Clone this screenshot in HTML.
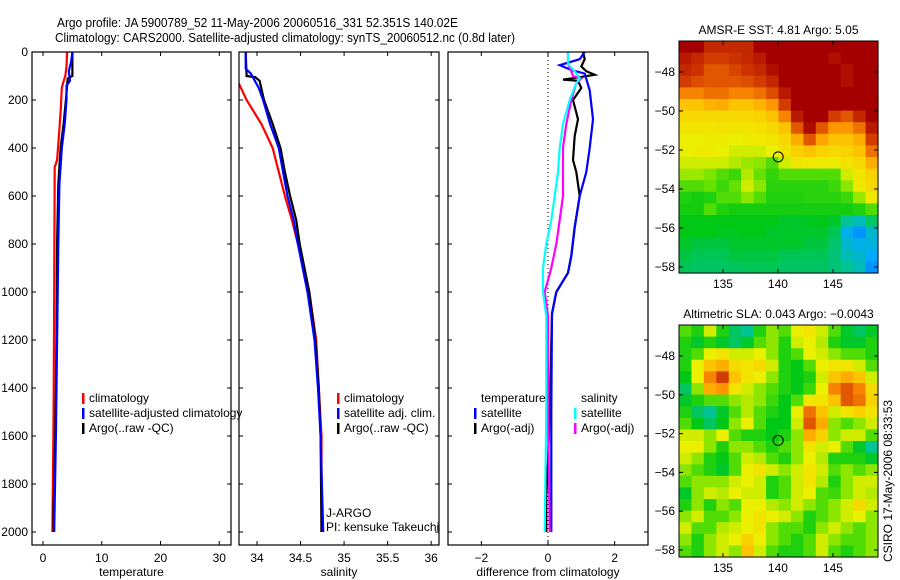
<!DOCTYPE html>
<html><head><meta charset="utf-8"><style>
body{margin:0;background:#fff}
svg{display:block;font-family:"Liberation Sans",sans-serif}
</style></head><body>
<svg id="fig" width="900" height="580" viewBox="0 0 900 580" xmlns="http://www.w3.org/2000/svg">
<rect width="900" height="580" fill="#fff"/>
<text x="57" y="27" font-size="13" textLength="401" lengthAdjust="spacingAndGlyphs">Argo profile: JA 5900789_52 11-May-2006 20060516_331 52.351S 140.02E</text>
<text x="55" y="42" font-size="13" textLength="460" lengthAdjust="spacingAndGlyphs">Climatology: CARS2000. Satellite-adjusted climatology: synTS_20060512.nc (0.8d later)</text>
<g id="layer"></g>
<text x="0" y="0" font-size="12" transform="translate(892,562) rotate(-90)">CSIRO 17-May-2006 08:33:53</text>
</svg>
<script>
// ---------- DATA ----------
const depthTicks=[0,200,400,600,800,1000,1200,1400,1600,1800,2000];
const tempTicks=[0,10,20,30];
const salTicks=[34,34.5,35,35.5,36];
const diffTicks=[-2,0,2];
const tClimD=[0,60,100,130,150,250,350,450,480,1000,1500,2000];
const tClimV=[4.1,4.0,3.8,3.4,3.2,3.0,2.7,2.4,2.0,1.9,1.8,1.6];
const tSatD=[0,40,80,120,140,200,300,400,550,800,1200,1600,2000];
const tSatV=[5.0,4.8,4.4,4.6,4.0,4.0,3.7,3.2,2.8,2.6,2.4,2.2,1.9];
const tArgoD=[0,100,110,200,300,400,550,800,1200,1600,1900,2000];
const tArgoV=[5.0,5.0,4.2,3.9,3.5,3.0,2.6,2.4,2.3,2.1,1.8,1.8];
const sClimD=[130,200,300,400,500,600,700,800,1000,1200,1400,1600,2000];
const sClimV=[33.79,33.88,34.05,34.18,34.25,34.32,34.4,34.47,34.6,34.68,34.71,34.74,34.74];
const sSatD=[0,70,90,150,200,300,400,500,600,700,800,1000,1200,1400,1600,2000];
const sSatV=[33.87,33.87,33.93,34.02,34.07,34.15,34.25,34.3,34.35,34.42,34.47,34.58,34.66,34.7,34.73,34.76];
const sArgoD=[0,100,105,120,200,300,400,500,600,700,800,1000,1200,1400,1600,2000];
const sArgoV=[33.87,33.88,33.98,34.03,34.08,34.18,34.27,34.32,34.38,34.45,34.49,34.6,34.67,34.71,34.73,34.74];
const dTSatD=[0,30,55,75,90,160,280,400,500,600,730,850,920,1000,1090,1500,2000];
const dTSatV=[1.1,0.95,0.35,0.7,1.1,1.25,1.35,1.25,1.15,0.95,0.8,0.7,0.6,0.25,0.12,0.1,0.1];
const dTArgoD=[0,30,60,80,95,110,115,120,150,200,280,350,450,500,600,730,850,920,1000,1090,1500,1700,1850,2000];
const dTArgoV=[1.05,1.1,1.0,1.15,1.4,0.7,0.45,0.9,1.0,0.75,0.9,0.8,0.75,0.85,0.95,0.8,0.7,0.6,0.25,0.12,0.05,0.0,-0.05,-0.05];
const dSSatD=[0,50,80,110,130,200,300,400,500,600,700,800,900,1000,1100,1500,2000];
const dSSatV=[0.6,0.6,0.8,0.95,0.85,0.65,0.45,0.35,0.3,0.2,0.1,-0.05,-0.15,-0.15,-0.05,-0.05,-0.1];
const dSArgoD=[0,50,80,100,110,130,200,300,400,500,600,700,800,900,1000,1100,1500,2000];
const dSArgoV=[0.6,0.6,0.7,0.75,1.0,0.85,0.7,0.55,0.45,0.45,0.45,0.35,0.25,0.1,-0.1,0.0,0.0,0.05];
const lonTicks=[135,140,145];
const latTicks=[-48,-50,-52,-54,-56,-58];
const floatLon=140.02, floatLat=-52.351;
const sstGrid=[
[1,1,.92,.92,.92,.92,1,1,1,1,1,1,1,1,1,1],
[.95,.92,.88,.88,.9,.92,.95,1,1,1,1,1,.97,1,1,1],
[.92,.9,.85,.85,.87,.9,.92,.97,1,1,1,1,1,.97,1,1],
[.88,.86,.85,.85,.85,.86,.88,.92,1,1,1,1,1,.97,1,1],
[.8,.8,.82,.82,.8,.8,.82,.86,.95,1,1,1,1,1,1,1],
[.72,.72,.74,.75,.72,.72,.74,.78,.88,1,1,1,1,1,1,1],
[.68,.68,.68,.68,.68,.68,.7,.72,.8,.95,1,1,.88,.85,.92,1],
[.65,.65,.65,.66,.65,.65,.66,.68,.72,.85,.98,.85,.78,.78,.82,.95],
[.62,.62,.63,.63,.62,.63,.64,.65,.68,.75,.85,.76,.72,.72,.75,.88],
[.62,.63,.63,.62,.6,.6,.6,.62,.66,.7,.72,.7,.68,.7,.72,.82],
[.6,.6,.6,.6,.58,.56,.55,.5,.6,.65,.64,.63,.63,.66,.68,.75],
[.56,.56,.54,.5,.48,.58,.52,.47,.5,.5,.5,.5,.5,.6,.65,.7],
[.5,.5,.52,.48,.52,.6,.55,.46,.46,.46,.46,.46,.48,.55,.64,.68],
[.45,.44,.45,.5,.5,.55,.5,.45,.45,.45,.46,.46,.46,.48,.56,.64],
[.44,.44,.5,.45,.44,.44,.44,.44,.44,.44,.44,.44,.44,.44,.45,.5],
[.42,.42,.42,.42,.42,.42,.42,.42,.4,.4,.41,.42,.4,.3,.25,.35],
[.42,.42,.42,.41,.41,.42,.42,.4,.4,.4,.4,.4,.36,.18,.12,.22],
[.4,.38,.38,.38,.4,.4,.4,.4,.4,.4,.38,.38,.34,.22,.18,.2],
[.38,.36,.36,.36,.38,.38,.38,.38,.36,.36,.36,.36,.33,.26,.22,.15],
[.36,.35,.35,.35,.35,.36,.36,.36,.35,.35,.35,.35,.33,.3,.25,.12]];
const slaGrid=[
[.5,.45,.6,.45,.35,.3,.45,.55,.5,.62,.65,.6,.5,.4,.35,.4],
[.45,.4,.45,.4,.35,.4,.5,.55,.45,.6,.62,.58,.45,.4,.4,.45],
[.45,.5,.62,.65,.6,.6,.62,.55,.45,.5,.62,.6,.55,.5,.5,.45],
[.45,.62,.72,.75,.68,.65,.68,.6,.45,.42,.5,.62,.65,.65,.6,.5],
[.42,.62,.8,.88,.72,.65,.62,.55,.45,.42,.45,.6,.72,.75,.72,.6],
[.35,.55,.75,.78,.65,.6,.55,.5,.45,.42,.48,.62,.8,.85,.8,.68],
[.4,.45,.5,.5,.55,.58,.55,.48,.42,.5,.65,.65,.72,.85,.82,.7],
[.45,.35,.3,.4,.5,.58,.5,.45,.42,.62,.82,.72,.6,.65,.7,.65],
[.5,.42,.35,.42,.55,.62,.5,.42,.42,.6,.85,.75,.55,.5,.55,.6],
[.6,.6,.55,.62,.5,.45,.45,.42,.45,.55,.75,.7,.55,.6,.6,.5],
[.62,.62,.55,.45,.55,.55,.5,.45,.5,.55,.65,.6,.62,.5,.4,.3],
[.6,.55,.45,.42,.5,.6,.58,.5,.45,.55,.62,.58,.45,.45,.45,.4],
[.55,.5,.45,.4,.5,.62,.65,.6,.55,.6,.65,.6,.5,.55,.5,.55],
[.5,.55,.55,.55,.6,.62,.6,.45,.5,.6,.65,.58,.45,.55,.6,.6],
[.4,.55,.6,.58,.62,.6,.6,.45,.5,.6,.62,.5,.48,.55,.6,.58],
[.45,.55,.45,.55,.5,.62,.62,.58,.55,.6,.55,.5,.55,.6,.68,.6],
[.55,.6,.5,.5,.55,.62,.65,.62,.6,.55,.45,.5,.55,.6,.62,.55],
[.6,.5,.5,.58,.6,.62,.65,.55,.5,.5,.45,.55,.6,.55,.5,.55],
[.55,.45,.55,.6,.62,.7,.62,.55,.5,.45,.5,.6,.55,.5,.5,.55],
[.5,.45,.55,.6,.55,.72,.6,.5,.45,.45,.5,.6,.5,.45,.5,.55]];

// ---------- DRAW ----------
const NS="http://www.w3.org/2000/svg";
const L=document.getElementById('layer');
function mk(tag,attrs,parent){const e=document.createElementNS(NS,tag);for(const k in attrs)e.setAttribute(k,attrs[k]);(parent||L).appendChild(e);return e;}
function txt(s,x,y,anchor,size,parent){const t=mk('text',{x:x,y:y,'text-anchor':anchor||'start','font-size':size||12},parent);t.textContent=s;return t;}

const pTop=52,pBot=545;
const yD=d=>pTop+d*0.24;
const panels=[
 {x0:32,x1:231,v0:-1.87,v1:32.0,ticks:tempTicks,label:'temperature',name:'temperature-panel'},
 {x0:239,x1:439,v0:33.793,v1:36.09,ticks:salTicks,label:'salinity',name:'salinity-panel'},
 {x0:448,x1:648,v0:-3.0,v1:3.0,ticks:diffTicks,label:'difference from climatology',name:'difference-panel'}];
panels.forEach(p=>{p.sx=v=>p.x0+(v-p.v0)/(p.v1-p.v0)*(p.x1-p.x0);});

panels.forEach((p,i)=>{
 const g=mk('g',{});
 
 
 const cp=mk('clipPath',{id:'cp'+i},g);mk('rect',{x:p.x0,y:pTop,width:p.x1-p.x0,height:pBot-pTop},cp);
 p.g=g;
});
function axes(p,i){
 const g=p.g;
 mk('rect',{x:p.x0,y:pTop,width:p.x1-p.x0,height:pBot-pTop,fill:'none',stroke:'#000','stroke-width':1.2},g);
 depthTicks.forEach(d=>{const y=yD(d);
  mk('line',{x1:p.x0,x2:p.x0+4,y1:y,y2:y,stroke:'#000'},g);
  mk('line',{x1:p.x1-4,x2:p.x1,y1:y,y2:y,stroke:'#000'},g);
  if(i===0){const t=txt(String(d),28,y+4,'end',12,g);}
 });
 p.ticks.forEach(v=>{const x=p.sx(v);
  mk('line',{x1:x,x2:x,y1:pBot,y2:pBot-4,stroke:'#000'},g);
  mk('line',{x1:x,x2:x,y1:pTop,y2:pTop+4,stroke:'#000'},g);
  const t=txt(String(v).replace('-','\u2212'),x,562,'middle',12,g);
  
  
 });
 const xl=txt(p.label,(p.x0+p.x1)/2,576,'middle',12,g);
 
 
}
function line(p,i,D,V,color,name){
 const pts=D.map((d,k)=>p.sx(V[k]).toFixed(1)+','+yD(d).toFixed(1)).join(' ');
 const e=mk('polyline',{points:pts,fill:'none',stroke:color,'stroke-width':2.2,'clip-path':'url(#cp'+i+')'},p.g);
 
 
}
const P0=panels[0],P1=panels[1],P2=panels[2];
line(P0,0,tClimD,tClimV,'#f00','temp-climatology-line');
line(P0,0,tArgoD,tArgoV,'#000','temp-argo-line');
line(P0,0,tSatD,tSatV,'#00f','temp-satellite-line');
line(P1,1,sClimD,sClimV,'#f00','sal-climatology-line');
line(P1,1,sArgoD,sArgoV,'#000','sal-argo-line');
line(P1,1,sSatD,sSatV,'#00f','sal-satellite-line');
mk('line',{x1:P2.sx(0),x2:P2.sx(0),y1:pTop,y2:pBot,stroke:'#000','stroke-dasharray':'1,3'},P2.g);
line(P2,2,dTArgoD,dTArgoV,'#000','diff-temp-argo-line');
line(P2,2,dTSatD,dTSatV,'#00f','diff-temp-satellite-line');
line(P2,2,dSArgoD,dSArgoV,'#f0f','diff-sal-argo-line');
line(P2,2,dSSatD,dSSatV,'#0ff','diff-sal-satellite-line');
panels.forEach(axes);

function legend(g,x,y,items){
 items.forEach((it,k)=>{const yy=y+k*15;
  if(it[1]){mk('rect',{x:x,y:yy-9,width:2.5,height:11,fill:it[1]},g);}
  const t=txt(it[0],x+7,yy,'start',12,g);
  
  
 });
}
legend(P0.g,82,402,[['climatology','#f00'],['satellite-adjusted climatology','#00f'],['Argo(..raw -QC)','#000']]);
legend(P1.g,337,402,[['climatology','#f00'],['satellite adj. clim.','#00f'],['Argo(..raw -QC)','#000']]);
legend(P2.g,474,402,[['temperature',null],['satellite','#00f'],['Argo(-adj)','#000']]);
legend(P2.g,574,402,[['salinity',null],['satellite','#0ff'],['Argo(-adj)','#f0f']]);
const pi1=txt('J-ARGO',326,517,'start',12,P1.g);
const pi2=txt('PI: kensuke Takeuchi',326,531,'start',12,P1.g);

// ---------- MAPS ----------
const stops=[[0,[0,60,255]],[0.15,[0,170,255]],[0.3,[0,195,150]],[0.42,[0,200,20]],[0.52,[100,225,0]],[0.62,[235,240,0]],[0.7,[250,210,0]],[0.78,[255,150,0]],[0.88,[210,60,0]],[1,[165,0,0]]];
function cmap(v){for(let k=1;k<stops.length;k++){if(v<=stops[k][0]){const a=stops[k-1],b=stops[k],t=(v-a[0])/(b[0]-a[0]);
 return 'rgb('+a[1].map((c,j)=>Math.round(c+(b[1][j]-c)*t)).join(',')+')';}}return 'rgb(165,0,0)';}
function drawMap(cfg){
 const g=mk('g',{});
 
 
 const lon0=131.0,lon1=149.1;
 const sx=l=>cfg.x0+(l-lon0)/(lon1-lon0)*(cfg.x1-cfg.x0);
 const sy=la=>cfg.yRef+(-48-la)*cfg.ppd;
 const lat0=-48+(cfg.yRef-cfg.y0)/cfg.ppd, lat1=-48-(cfg.y1-cfg.yRef)/cfg.ppd;
 const G=cfg.grid,nr=G.length,nc=G[0].length;
 const dLon=(lon1-lon0)/nc,dLat=(lat0-lat1)/nr;
 G.forEach((row,r)=>row.forEach((v,c)=>{
  const x=sx(lon0+c*dLon),y=sy(lat0-r*dLat);
  const cell=mk('rect',{x:x.toFixed(2),y:y.toFixed(2),width:(sx(lon0+(c+1)*dLon)-x+0.6).toFixed(2),height:(sy(lat0-(r+1)*dLat)-y+0.6).toFixed(2),fill:cmap(v)},g);
  
  
 }));
 mk('rect',{x:cfg.x0,y:cfg.y0,width:cfg.x1-cfg.x0,height:cfg.y1-cfg.y0,fill:'none',stroke:'#000'},g);
 lonTicks.forEach(l=>{const x=sx(l);
  mk('line',{x1:x,x2:x,y1:cfg.y1,y2:cfg.y1-4,stroke:'#000'},g);
  mk('line',{x1:x,x2:x,y1:cfg.y0,y2:cfg.y0+4,stroke:'#000'},g);
  const t=txt(String(l),x,cfg.y1+15,'middle',12,g);
 });
 latTicks.forEach(la=>{const y=sy(la);
  mk('line',{x1:cfg.x0,x2:cfg.x0+4,y1:y,y2:y,stroke:'#000'},g);
  mk('line',{x1:cfg.x1,x2:cfg.x1-4,y1:y,y2:y,stroke:'#000'},g);
  const t=txt('\u2212'+String(-la),cfg.x0-4,y+4,'end',12,g);
 });
 const c=mk('circle',{cx:sx(floatLon),cy:sy(floatLat),r:5,fill:'none',stroke:'#000','stroke-width':1},g);
 
 
 const t=txt(cfg.title,(cfg.x0+cfg.x1)/2,cfg.y0-7,'middle',12,g);
 
 
}
drawMap({name:'sst-map',grid:sstGrid,x0:679,x1:878,y0:41,y1:273,yRef:72,ppd:19.5,title:'AMSR-E SST: 4.81  Argo: 5.05'});
drawMap({name:'sla-map',grid:slaGrid,x0:679,x1:878,y0:325,y1:557,yRef:356,ppd:19.4,title:'Altimetric SLA: 0.043  Argo: \u22120.0043'});
</script>
</body></html>
